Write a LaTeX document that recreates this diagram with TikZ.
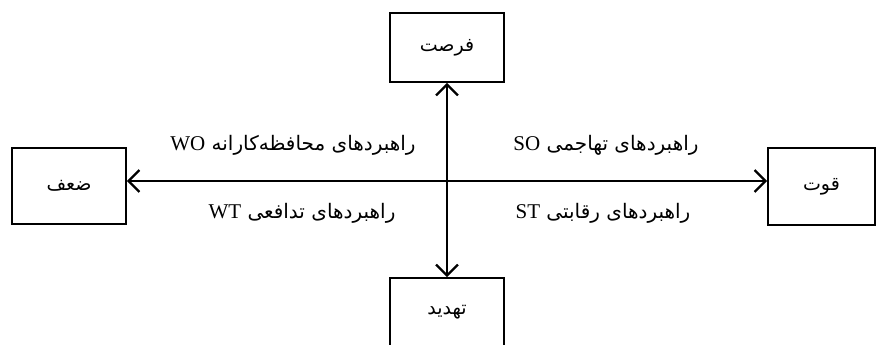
\documentclass[tikz,border=0pt]{standalone}
\usepackage{fontspec}
\setmainfont{Liberation Serif}
\newfontfamily\farsi[Script=Arabic]{DejaVu Sans}
\TeXXeTstate=1
\usetikzlibrary{arrows.meta}

\tikzset{
  box/.style={draw, line width=1.8pt, minimum width=114pt, minimum height=69pt, inner sep=0pt,
    font=\farsi\fontsize{19}{22}\selectfont},
  axis/.style={<->, line width=2.2pt},
  strat/.style={font=\farsi\fontsize{20}{24}\selectfont},
}
\newcommand{\lat}[1]{{\rmfamily\fontsize{21}{24}\selectfont #1}}

\begin{document}
\begin{tikzpicture}[x=1pt,y=1pt,>={Straight Barb[length=11pt,width=22pt]}]
  \useasboundingbox (0,0) rectangle (876,345);
  \coordinate (mid) at (447,164);

  \node[box] (opp) at (447,297.5) {\beginR فرصت\endR};
  \node[box] (thr) at (447,32.5) {\beginR تهدید\endR};
  \node[box, minimum height=76pt] (weak) at (69,159) {\beginR ضعف\endR};
  \node[box, minimum width=107pt, minimum height=77pt] (str) at (821.5,158.5) {\beginR قوت\endR};

  \draw[axis] (opp) -- (thr);
  \draw[axis] (weak.east |- mid) -- (str.west |- mid);

  \node[strat] (wo) at (293,200) {\beginR راهبردهای محافظه‌کارانه \lat{WO}\endR};
  \node[strat] (wt) at (302,132) {\beginR راهبردهای تدافعی \lat{WT}\endR};
  \node[strat] (so) at (606,200) {\beginR راهبردهای تهاجمی \lat{SO}\endR};
  \node[strat] (st) at (603,132) {\beginR راهبردهای رقابتی \lat{ST}\endR};
\end{tikzpicture}
\end{document}
